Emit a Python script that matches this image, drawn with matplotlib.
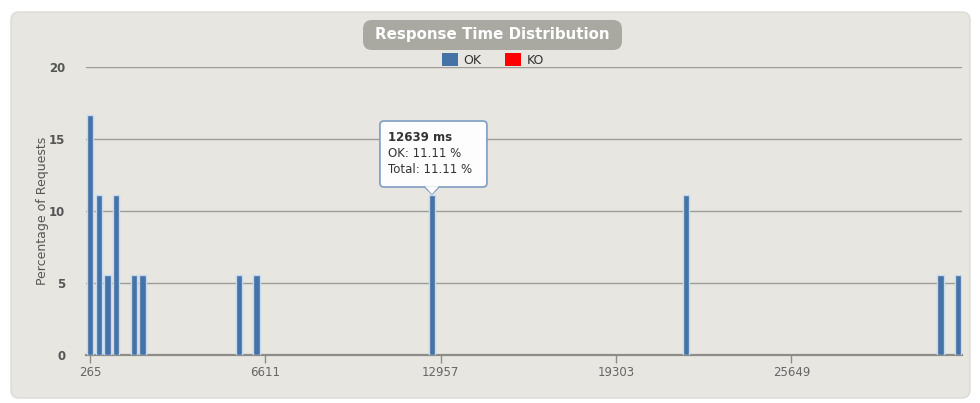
import matplotlib
matplotlib.use('Agg')
import matplotlib.pyplot as plt
from matplotlib.patches import FancyBboxPatch, Rectangle, Polygon
from matplotlib.transforms import IdentityTransform

# Histogram data (100 bins, only non-empty ones listed)
bar_bins = [0, 1, 2, 3, 5, 6, 17, 19, 39, 68, 97, 99]
ok_pct = [16.67, 11.11, 5.56, 11.11, 5.56, 5.56, 5.56, 5.56, 11.11, 11.11, 5.56, 5.56]
ko_pct = []
n_bins = 100

tick_bins = [0, 20, 40, 60, 80]
tick_labels = ['265', '6611', '12957', '19303', '25649']
y_ticks = [0, 5, 10, 15, 20]

# tooltip shown for this bar
tip_bin = 39
tip_label = '12639 ms'

W, H = 980, 403
fig = plt.figure(figsize=(W / 100, H / 100), dpi=100)
fig.patch.set_facecolor('white')

px = IdentityTransform()
# chart panel (behind the axes)
fig.patches.append(FancyBboxPatch((11, 5), 959, 386, boxstyle='round,pad=0,rounding_size=8',
                                  transform=px, facecolor='#e8e6e1', edgecolor='#dcdad5',
                                  linewidth=1, zorder=-5))

ax = fig.add_axes([86 / W, (H - 355) / H, (962 - 86) / W, (355 - 67) / H])
ax.set_facecolor('none')

ax.bar(bar_bins, ok_pct, width=0.7, color='#4572A7', edgecolor='#c4d8ee',
       linewidth=1.0, zorder=3)

ax.set_xlim(-0.45, n_bins - 0.55)
ax.set_ylim(0, 20)
ax.set_yticks(y_ticks)
ax.set_xticks(tick_bins)
ax.set_xticklabels(tick_labels)
ax.yaxis.grid(True, color='#9c9c98', linewidth=1)
ax.set_axisbelow(True)
for s in ['top', 'right', 'left']:
    ax.spines[s].set_visible(False)
ax.spines['bottom'].set_color('#8c8c88')
ax.spines['bottom'].set_linewidth(1.6)
ax.tick_params(axis='y', length=0, pad=15, labelsize=8.5, labelcolor='#555555')
ax.tick_params(axis='x', length=6, width=1, color='#8c8c88', pad=2,
               labelsize=8.5, labelcolor='#666666')
for t in ax.get_yticklabels():
    t.set_fontweight('bold')
ax.set_ylabel('Percentage of Requests', fontsize=9, color='#555555', labelpad=0)

# title badge
fig.patches.append(FancyBboxPatch((363, 353), 259, 30, boxstyle='round,pad=0,rounding_size=9',
                                  transform=px, facecolor='#a9a8a1', edgecolor='none', zorder=5))
fig.text(492.5 / W, (H - 35) / H, 'Response Time Distribution', ha='center', va='center',
         color='white', fontsize=10.8, fontweight='bold', zorder=6)

# legend
fig.patches.append(Rectangle((442, H - 66), 16, 13, transform=px, facecolor='#4572A7',
                             edgecolor='none', zorder=5))
fig.text(463 / W, (H - 60) / H, 'OK', ha='left', va='center', fontsize=9, color='#333333')
fig.patches.append(Rectangle((505, H - 66), 16, 13, transform=px, facecolor='#ff0000',
                             edgecolor='none', zorder=5))
fig.text(527 / W, (H - 60) / H, 'KO', ha='left', va='center', fontsize=9, color='#333333')

# tooltip
fig.canvas.draw()
tip_val = ok_pct[bar_bins.index(tip_bin)]
tx, ty = ax.transData.transform((tip_bin, tip_val))
bx0, bx1 = tx - 52, tx + 55
by0, by1 = ty + 8, ty + 74
fig.patches.append(FancyBboxPatch((bx0, by0), bx1 - bx0, by1 - by0,
                                  boxstyle='round,pad=0,rounding_size=4', transform=px,
                                  facecolor='#fdfdfd', edgecolor='#7f9dc4', linewidth=1.2,
                                  zorder=10))
fig.patches.append(Polygon([(tx - 7, by0 + 0.8), (tx + 7, by0 + 0.8), (tx, ty + 1)], closed=True,
                           transform=px, facecolor='#fdfdfd', edgecolor='none', zorder=11))
fig.lines.append(plt.Line2D([tx - 7, tx, tx + 7], [by0, ty + 1, by0], transform=px,
                            color='#7f9dc4', linewidth=1.2, zorder=11))
lines = [(tip_label, 'bold'), ('OK: %.2f %%' % tip_val, 'normal'),
         ('Total: %.2f %%' % tip_val, 'normal')]
for i, (s, w) in enumerate(lines):
    fig.text((bx0 + 8) / W, (by1 - 16 - 16 * i) / H, s, ha='left', va='center',
             fontsize=8.5, fontweight=w, color='#333333', zorder=12)

fig.savefig('out.png', dpi=100, facecolor=fig.get_facecolor())
